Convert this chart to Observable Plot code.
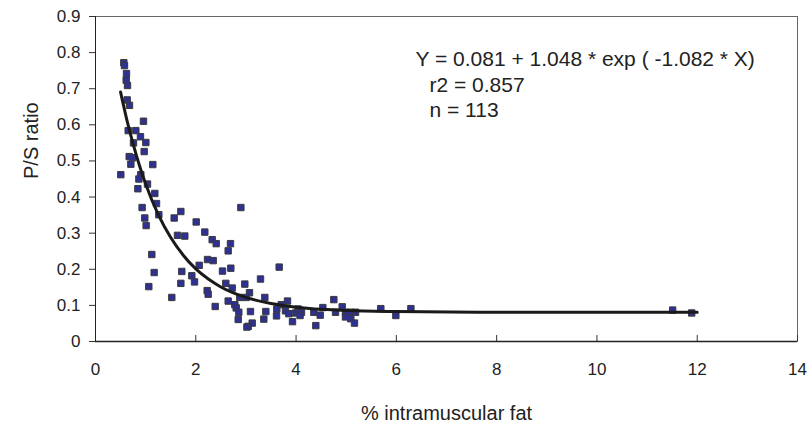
<!DOCTYPE html>
<html>
<head>
<meta charset="utf-8">
<script src="https://cdn.jsdelivr.net/npm/d3@7"></script>
<script src="https://cdn.jsdelivr.net/npm/@observablehq/plot@0.6"></script>
<style>
  html, body { margin: 0; padding: 0; background: #fff; }
  #chart svg { display: block; }
</style>
</head>
<body>
<div id="chart"></div>
<script>
// Observed points: % intramuscular fat (x) vs P/S ratio (y)
const fatPct = [
  0.565,0.578,0.618,0.612,0.638,0.632,0.678,0.957,0.652,0.804,
  0.897,0.758,1.004,0.971,0.672,0.745,0.705,1.143,0.505,0.904,
  0.865,1.037,0.845,1.183,1.217,0.93,1.263,0.983,1.010,1.702,
  1.569,2.008,2.18,1.635,1.781,1.123,1.170,1.063,1.721,1.702,
  1.921,1.975,2.068,1.522,2.899,2.327,2.407,2.692,2.646,2.234,
  2.347,2.533,2.699,3.663,3.291,2.227,2.247,2.599,2.726,2.978,
  3.071,2.878,3.005,3.377,2.387,2.646,2.778,2.806,2.858,3.091,
  3.397,2.846,3.357,3.61,3.125,3.045,3.02,3.704,3.829,3.616,
  3.789,3.855,3.929,4.04,3.99,4.108,4.08,4.354,4.481,4.394,
  4.534,4.753,4.787,4.92,4.986,4.986,5.086,5.092,5.186,5.165,
  5.69,5.99,6.29,11.51,11.89
];
const psRatio = [
  0.772,0.764,0.742,0.724,0.709,0.669,0.654,0.610,0.584,0.584,
  0.567,0.550,0.551,0.526,0.512,0.509,0.491,0.490,0.462,0.462,
  0.450,0.436,0.423,0.410,0.382,0.371,0.351,0.342,0.321,0.360,
  0.342,0.331,0.303,0.294,0.292,0.241,0.191,0.152,0.194,0.161,
  0.182,0.165,0.211,0.122,0.371,0.282,0.271,0.271,0.251,0.227,
  0.224,0.195,0.203,0.206,0.173,0.141,0.131,0.161,0.148,0.159,
  0.135,0.122,0.122,0.122,0.097,0.112,0.102,0.093,0.081,0.083,
  0.083,0.061,0.062,0.071,0.051,0.042,0.040,0.102,0.112,0.090,
  0.085,0.077,0.055,0.090,0.079,0.081,0.072,0.081,0.073,0.044,
  0.094,0.116,0.081,0.096,0.081,0.068,0.081,0.063,0.081,0.051,
  0.091,0.072,0.091,0.087,0.079
];

// Fitted curve
const fitX = [0.5,0.625,0.75,0.875,1,1.25,1.5,1.75,2,2.25,2.5,3,3.5,4,5,6,8,10,12];
const fitY = [0.691,0.614,0.547,0.488,0.436,0.352,0.288,0.239,0.201,0.173,0.151,0.122,0.105,0.095,0.086,0.083,0.081,0.081,0.081];

const xTicks = [0,2,4,6,8,10,12,14];
const yTicks = [0,0.1,0.2,0.3,0.4,0.5,0.6,0.7,0.8,0.9];
const annotation = ["Y = 0.081 + 1.048 * exp ( -1.082 * X)", "r2 = 0.857", "n = 113"];
const xLabel = "% intramuscular fat";
const yLabel = "P/S ratio";

const points = fatPct.map((x, i) => ({x, y: psRatio[i]}));
const fit = fitX.map((x, i) => ({x, y: fitY[i]}));

const font = "'Liberation Sans', Arial, Helvetica, sans-serif";
const tickFs = 17;
const titleFs = 20;
const noteFs = 21;

const chart = Plot.plot({
  width: 808,
  height: 428,
  marginLeft: 95,
  marginRight: 11,
  marginTop: 16,
  marginBottom: 87,
  style: {fontFamily: font, fontSize: tickFs + "px", color: "#222", background: "#fff"},
  x: {domain: [0, 14]},
  y: {domain: [0, 0.9]},
  marks: [
    Plot.frame({stroke: "#666", strokeWidth: 1}),
    Plot.axisY({ticks: yTicks, tickSize: 6, tickPadding: 9, tickFormat: d => String(d), fontSize: tickFs, label: null, stroke: "#333"}),
    Plot.axisX({ticks: xTicks, tickSize: 0, tickPadding: 21, tickFormat: d => String(d), fontSize: tickFs, label: null}),
    Plot.tickX(xTicks, {x: d => d, insetTop: 319, stroke: "#333"}),
    Plot.ruleX([0], {stroke: "#222"}),
    Plot.ruleY([0], {stroke: "#222", strokeWidth: 1.3}),
    Plot.text([xLabel], {frameAnchor: "bottom", lineAnchor: "middle", dy: 72, text: d => d, fontSize: titleFs, fill: "#222"}),
    Plot.text([yLabel], {frameAnchor: "left", lineAnchor: "middle", dx: -64, rotate: -90, text: d => d, fontSize: titleFs, fill: "#222"}),
    Plot.dot(points, {x: "x", y: "y", symbol: "square", r: 3.6, fill: "#2e3192", stroke: "#3a3a3a", strokeWidth: 1}),
    Plot.line(fit, {x: "x", y: "y", curve: "monotone-x", stroke: "#1a1a1a", strokeWidth: 3}),
    Plot.text([annotation[0]], {frameAnchor: "top-left", lineAnchor: "middle", dx: 320, dy: 43, text: d => d, fontSize: noteFs, fill: "#222", textAnchor: "start"}),
    Plot.text([annotation[1]], {frameAnchor: "top-left", lineAnchor: "middle", dx: 334, dy: 69, text: d => d, fontSize: noteFs, fill: "#222", textAnchor: "start"}),
    Plot.text([annotation[2]], {frameAnchor: "top-left", lineAnchor: "middle", dx: 334, dy: 94, text: d => d, fontSize: noteFs, fill: "#222", textAnchor: "start"})
  ]
});
document.getElementById("chart").appendChild(chart);
</script>
</body>
</html>
